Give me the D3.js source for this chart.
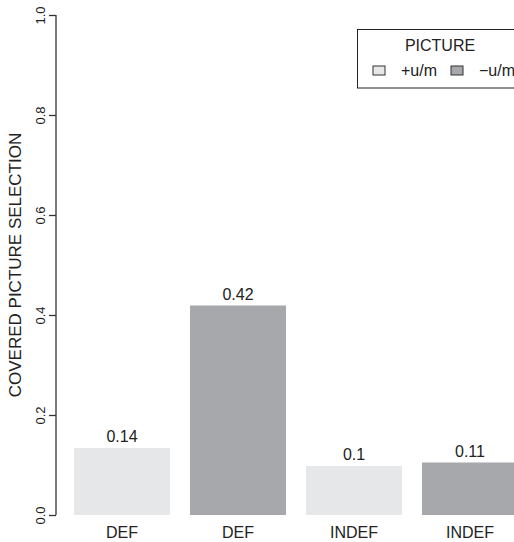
<!DOCTYPE html>
<html><head><meta charset="utf-8">
<script src="https://cdn.jsdelivr.net/npm/d3@7"></script>
<style>body{margin:0;background:#fff}svg{display:block}text{font-family:"Liberation Sans",Arial,sans-serif;fill:#222}</style>
</head><body><svg id="c" width="514" height="542"></svg>
<script>
const categories = ["DEF","DEF","INDEF","INDEF"];
const groups = ["+u/m","\u2212u/m","+u/m","\u2212u/m"];
const values = [0.134, 0.419, 0.098, 0.105];
const valueLabels = ["0.14","0.42","0.1","0.11"];
const yTicks = [0,0.2,0.4,0.6,0.8,1.0];
const legendKeys = ["+u/m","\u2212u/m"];
const colors = {"+u/m":"#e6e7e8","\u2212u/m":"#a7a8ab"};

const svg = d3.select("#c");
const y = d3.scaleLinear().domain([0,1]).range([515,15]);
const x = d3.scaleBand().domain(d3.range(categories.length)).range([64,528]).paddingInner(20/116).paddingOuter(10/116);

svg.selectAll("rect.bar").data(values).join("rect").attr("class","bar")
  .attr("x",(d,i)=>x(i)).attr("width",x.bandwidth())
  .attr("y",d=>y(d)).attr("height",d=>y(0)-y(d))
  .attr("fill",(d,i)=>colors[groups[i]]);

svg.selectAll("text.vl").data(values).join("text").attr("class","vl")
  .attr("x",(d,i)=>x(i)+x.bandwidth()/2).attr("y",d=>y(d)-6)
  .attr("text-anchor","middle").attr("font-size",16).text((d,i)=>valueLabels[i]);

svg.selectAll("text.cl").data(categories).join("text").attr("class","cl")
  .attr("x",(d,i)=>x(i)+x.bandwidth()/2).attr("y",538)
  .attr("text-anchor","middle").attr("font-size",16).text(d=>d);

const ax = svg.append("g").attr("transform","translate(56,0)")
  .call(d3.axisLeft(y).tickValues(yTicks).tickFormat(d3.format(".1f")).tickSize(7).tickPadding(5));
ax.select(".domain").attr("stroke","#333").attr("stroke-width",1.3).attr("d","M0,15V515");
ax.selectAll(".tick line").attr("stroke","#333").attr("stroke-width",1.3);
ax.selectAll(".tick text").attr("font-size",13).attr("fill","#333")
  .attr("font-family","Liberation Sans, Arial, sans-serif")
  .attr("x",null).attr("y",0).attr("dy","0.35em")
  .attr("text-anchor","middle")
  .attr("transform","translate(-16,0) rotate(-90)");

svg.append("text").attr("transform","translate(21,265) rotate(-90)")
  .attr("text-anchor","middle").attr("font-size",17).text("COVERED PICTURE SELECTION");

// legend
const lg = svg.append("g");
lg.append("rect").attr("x",357.5).attr("y",29.5).attr("width",170).attr("height",58.5)
  .attr("fill","#fff").attr("stroke","#222").attr("stroke-width",1);
lg.append("text").attr("x",440).attr("y",51).attr("text-anchor","middle").attr("font-size",16).text("PICTURE");
const lx = [373, 451];
legendKeys.forEach((k,i)=>{
  lg.append("rect").attr("x",lx[i]).attr("y",66).attr("width",12).attr("height",9)
    .attr("fill",colors[k]).attr("stroke","#333").attr("stroke-width",1);
  lg.append("text").attr("x",lx[i]+28).attr("y",76).attr("font-size",16).text(k);
});
</script></body></html>
